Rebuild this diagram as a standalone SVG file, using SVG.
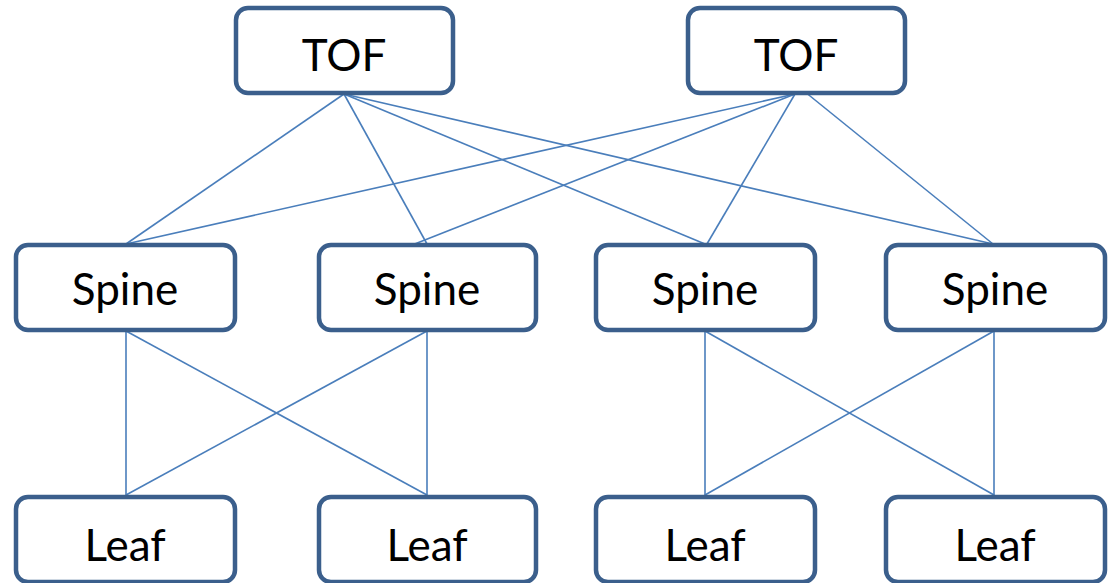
<svg xmlns="http://www.w3.org/2000/svg" width="1114" height="583" viewBox="0 0 1114 583">
  <style>
    .box { fill: #ffffff; stroke: #3b5f8c; stroke-width: 4.5; }
    .lbl { font-family: Lato, "Open Sans", sans-serif; font-size: 44px; fill: #000000; text-anchor: middle; }
    .link { stroke: #4a7ebb; stroke-width: 1.6; fill: none; }
  </style>
  <rect width="1114" height="583" fill="#ffffff"/>

  <!-- connectors -->
  <g id="connectors">
    <!-- TOF 1 to spines -->
    <line class="link" x1="344" y1="94" x2="126" y2="244"/>
    <line class="link" x1="344" y1="94" x2="427" y2="244"/>
    <line class="link" x1="344" y1="94" x2="705" y2="244"/>
    <line class="link" x1="344" y1="94" x2="993" y2="244"/>
    <!-- TOF 2 to spines -->
    <line class="link" x1="795" y1="94" x2="126" y2="244"/>
    <line class="link" x1="795" y1="94" x2="402" y2="249"/>
    <line class="link" x1="795" y1="94" x2="704" y2="249"/>
    <line class="link" x1="794" y1="83" x2="993" y2="244"/>
    <!-- spines to leaves, pod 1 -->
    <line class="link" x1="126" y1="331" x2="126" y2="495"/>
    <line class="link" x1="126" y1="331" x2="427" y2="495"/>
    <line class="link" x1="427" y1="331" x2="126" y2="495"/>
    <line class="link" x1="427" y1="331" x2="427" y2="495"/>
    <!-- spines to leaves, pod 2 -->
    <line class="link" x1="705" y1="331" x2="705" y2="495"/>
    <line class="link" x1="705" y1="331" x2="994" y2="495"/>
    <line class="link" x1="994" y1="331" x2="705" y2="495"/>
    <line class="link" x1="994" y1="331" x2="994" y2="495"/>
  </g>

  <g id="tof1"><rect class="box" x="236" y="8" width="217" height="85" rx="12"/><text class="lbl" x="344" y="71">TOF</text></g>
  <g id="tof2"><rect class="box" x="688" y="8" width="217" height="85" rx="12"/><text class="lbl" x="796" y="71">TOF</text></g>

  <g id="spine1"><rect class="box" x="16" y="245" width="219" height="85" rx="12"/><text class="lbl" x="125" y="305">Spine</text></g>
  <g id="spine2"><rect class="box" x="319" y="245" width="217" height="85" rx="12"/><text class="lbl" x="427" y="305">Spine</text></g>
  <g id="spine3"><rect class="box" x="596" y="245" width="219" height="85" rx="12"/><text class="lbl" x="705" y="305">Spine</text></g>
  <g id="spine4"><rect class="box" x="886" y="245" width="219" height="85" rx="12"/><text class="lbl" x="995" y="305">Spine</text></g>

  <g id="leaf1"><rect class="box" x="16" y="497" width="219" height="85" rx="12"/><text class="lbl" x="125" y="561">Leaf</text></g>
  <g id="leaf2"><rect class="box" x="319" y="497" width="217" height="85" rx="12"/><text class="lbl" x="427" y="561">Leaf</text></g>
  <g id="leaf3"><rect class="box" x="596" y="497" width="219" height="85" rx="12"/><text class="lbl" x="705" y="561">Leaf</text></g>
  <g id="leaf4"><rect class="box" x="886" y="497" width="219" height="85" rx="12"/><text class="lbl" x="995" y="561">Leaf</text></g>
</svg>
